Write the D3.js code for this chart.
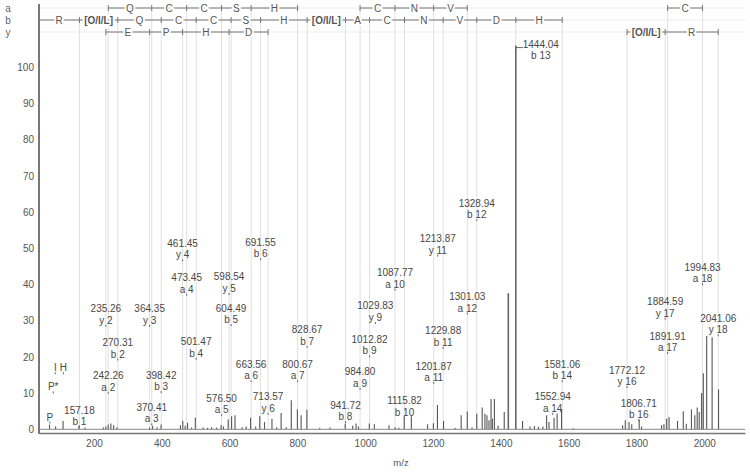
<!DOCTYPE html>
<html>
<head>
<meta charset="utf-8">
<script src="https://cdn.jsdelivr.net/npm/d3@7"></script>
<style>
body { margin: 0; background: #fff; }
text { font-family: "Liberation Sans", Arial, sans-serif; }
</style>
</head>
<body>
<svg id="chart" width="750" height="472"></svg>
<script>
// spectrum sticks (m/z, relative intensity %)
const peakMz = [69, 87, 109, 156, 174, 228, 235, 242, 250, 258, 268, 364, 373, 386, 398,
  455, 462, 469, 476, 488, 499, 522, 535, 547, 562, 575, 582, 596, 606, 616, 637, 649, 662,
  677, 689, 703, 725, 739, 752, 767, 782, 800, 811, 828, 866, 896, 941, 963, 973, 980, 1012,
  1027, 1070, 1088, 1099, 1115, 1136, 1184, 1201, 1213, 1231, 1265, 1283, 1301, 1315, 1329,
  1345, 1353, 1359, 1365, 1371, 1375, 1381, 1392, 1410, 1422, 1444.04, 1464, 1486, 1499,
  1511, 1524, 1535, 1542, 1557, 1566, 1579, 1614, 1759, 1767, 1778, 1786, 1808, 1815, 1874,
  1881, 1889, 1896, 1921, 1938, 1947, 1962, 1972, 1979, 1985, 1992, 1997, 2007, 2023, 2042];
const peakInt = [1.3, 0.8, 2.3, 1.1, 0.5, 0.5, 0.8, 1.3, 1.6, 1.1, 0.6, 0.5, 1.0, 0.6, 1.3,
  1.1, 2.3, 1.0, 1.8, 0.5, 3.2, 0.5, 0.4, 0.6, 0.5, 1.2, 0.8, 2.7, 3.6, 3.9, 0.6, 0.8, 3.2,
  0.8, 3.6, 2.0, 2.9, 0.6, 4.5, 0.6, 8.0, 5.5, 3.9, 5.4, 0.4, 0.5, 1.5, 1.0, 1.6, 0.8, 1.6,
  1.4, 1.1, 0.6, 0.4, 3.6, 3.6, 1.4, 1.7, 6.7, 2.3, 0.4, 3.9, 4.9, 0.5, 4.3,
  6.0, 4.3, 3.9, 2.5, 8.4, 3.0, 8.4, 1.0, 4.8, 37.6, 106, 2.3, 0.8, 0.9,
  0.7, 0.8, 3.9, 2.0, 3.2, 4.3, 5.5, 0.3, 1.1, 2.5, 2.0, 1.4, 2.7, 0.8, 1.1,
  1.4, 2.9, 3.4, 2.3, 5.0, 1.5, 5.5, 3.9, 6.0, 4.8, 10.0, 15.5, 25.8, 25.4, 11.0];

// annotated fragment ions: m/z, ion name, label level (%)
const ionMz = [157.18, 235.26, 270.31, 242.26, 364.35, 398.42, 370.41, 461.45, 473.45,
  501.47, 598.54, 604.49, 576.50, 663.56, 691.55, 713.57, 828.67, 800.67, 941.72, 984.80,
  1012.82, 1029.83, 1087.77, 1115.82, 1213.87, 1201.87, 1229.88, 1301.03, 1328.94,
  1444.04, 1581.06, 1552.94, 1772.12, 1806.71, 1884.59, 1891.91, 1994.83, 2041.06];
const ionName = ["b 1", "y 2", "b 2", "a 2", "y 3", "b 3", "a 3", "y 4", "a 4",
  "b 4", "y 5", "b 5", "a 5", "a 6", "b 6", "y 6", "b 7", "a 7", "b 8", "a 9",
  "b 9", "y 9", "a 10", "b 10", "y 11", "a 11", "b 11", "a 12", "b 12",
  "b 13", "b 14", "a 14", "y 16", "b 16", "y 17", "a 17", "a 18", "y 18"];
const ionLevel = [0.3, 28.3, 19.0, 9.8, 28.3, 10.0, 1.1, 46.4, 36.9,
  19.2, 37.1, 28.5, 3.6, 13.0, 46.7, 4.0, 22.5, 13.0, 1.7, 10.9,
  19.9, 29.1, 38.3, 2.9, 47.7, 12.5, 22.2, 31.7, 57.5,
  106, 13.0, 4.0, 11.4, 2.2, 30.3, 20.8, 39.8, 25.7];

// immonium ions
const immMz = [70.07, 80.0, 86.1, 110.07];
const immName = ["P", "P*", "I", "H"];
const immLevel = [1.6, 9.9, 15.2, 15.2];

// sequence ladders
const ladderRow = ["a", "a", "a", "b", "y", "y"];
const ladderMz = [
  [242.26, 370.41, 473.45, 576.50, 663.56, 800.67],
  [984.80, 1087.77, 1201.87, 1301.03],
  [1891.91, 1994.83],
  [38, 157.18, 270.31, 398.42, 501.47, 604.49, 691.55, 828.67, 941.72, 1012.82,
   1115.82, 1229.88, 1328.94, 1444.04, 1581.06],
  [235.26, 364.35, 461.45, 598.54, 713.57],
  [1772.12, 1884.59, 2041.06]
];
const ladderRes = [
  ["Q", "C", "C", "S", "H"],
  ["C", "N", "V"],
  ["C"],
  ["R", "[O/I/L]", "Q", "C", "C", "S", "H", "[O/I/L]", "A", "C", "N", "V", "D", "H"],
  ["E", "P", "H", "D"],
  ["[O/I/L]", "R"]
];

const svg = d3.select("#chart");
const x = d3.scaleLinear().domain([38, 2120]).range([39, 745]);
const y = d3.scaleLinear().domain([0, 100]).range([429.3, 67.3]);
const rowY = { a: 8, b: 20, y: 32 };

// faint row lines
svg.selectAll(".rowline").data(["a", "b", "y"]).join("line")
  .attr("x1", 39).attr("x2", 745)
  .attr("y1", d => rowY[d]).attr("y2", d => rowY[d])
  .attr("stroke", "#ececec");

// guide lines at ladder breaks
ladderMz.forEach((m, i) => {
  svg.append("g").selectAll("line").data(m.filter(v => v > 40)).join("line")
    .attr("x1", d => x(d)).attr("x2", d => x(d))
    .attr("y1", rowY[ladderRow[i]]).attr("y2", y(0))
    .attr("stroke", "#e0e0e0");
});

// row labels
svg.selectAll(".rowlab").data(["a", "b", "y"]).join("text")
  .attr("x", 8).attr("y", d => rowY[d] + 3.5)
  .attr("text-anchor", "middle")
  .attr("font-size", 10).attr("fill", "#666")
  .text(d => d);

// ladders
ladderMz.forEach((m, i) => {
  const ry = rowY[ladderRow[i]];
  const g = svg.append("g");
  g.append("line")
    .attr("x1", x(m[0])).attr("x2", x(m[m.length - 1]))
    .attr("y1", ry).attr("y2", ry)
    .attr("stroke", "#777");
  g.selectAll(".tk").data(m).join("line")
    .attr("x1", d => x(d)).attr("x2", d => x(d))
    .attr("y1", ry - 3).attr("y2", ry + 3)
    .attr("stroke", "#777");
  g.selectAll("text").data(ladderRes[i]).join("text")
    .attr("x", (d, j) => (x(m[j]) + x(m[j + 1])) / 2)
    .attr("y", ry + 3.5)
    .attr("text-anchor", "middle")
    .attr("font-size", 10)
    .attr("font-weight", d => d.length > 1 ? "bold" : "normal")
    .attr("fill", "#555")
    .attr("stroke", "#fff").attr("stroke-width", 4)
    .attr("paint-order", "stroke")
    .text(d => d);
});

// peaks
svg.append("g").selectAll("line").data(peakMz).join("line")
  .attr("x1", d => x(d)).attr("x2", d => x(d))
  .attr("y1", y(0)).attr("y2", (d, i) => y(peakInt[i]))
  .attr("stroke", (d, i) => peakInt[i] > 30 ? "#666" : "#555")
  .attr("stroke-width", (d, i) => peakInt[i] > 30 ? 1.6 : 1.1);

// ion labels
const lab = svg.append("g").attr("font-size", 10).attr("fill", "#484848");
ionMz.forEach((m, i) => {
  const cx = x(m), yl = y(ionLevel[i]);
  if (ionLevel[i] > 100) {
    // top peak: label to the right with a short leader
    lab.append("line").attr("x1", cx).attr("x2", cx + 7)
      .attr("y1", yl + 2).attr("y2", yl + 2).attr("stroke", "#666");
    lab.append("text").attr("x", cx + 25).attr("y", yl + 2)
      .attr("text-anchor", "middle").text(m.toFixed(2));
    lab.append("text").attr("x", cx + 25).attr("y", yl + 13)
      .attr("text-anchor", "middle").text(ionName[i]);
    return;
  }
  lab.append("text").attr("x", cx).attr("y", yl - 14.5)
    .attr("text-anchor", "middle").text(m.toFixed(2));
  lab.append("text").attr("x", cx).attr("y", yl - 3)
    .attr("text-anchor", "middle").text(ionName[i]);
  lab.append("line").attr("x1", cx).attr("x2", cx)
    .attr("y1", yl - 2).attr("y2", yl).attr("stroke", "#666");
});
immMz.forEach((m, i) => {
  const cx = x(m), yl = y(immLevel[i]);
  lab.append("text").attr("x", cx).attr("y", yl - 3)
    .attr("text-anchor", "middle").text(immName[i]);
  lab.append("line").attr("x1", cx).attr("x2", cx)
    .attr("y1", yl - 2).attr("y2", yl).attr("stroke", "#666");
});

// baseline
svg.append("line").attr("x1", 39).attr("x2", 745)
  .attr("y1", y(0)).attr("y2", y(0)).attr("stroke", "#888");

// x axis
const xAxis = svg.append("g").attr("transform", "translate(0,433)")
  .call(d3.axisBottom(x).tickValues(d3.range(200, 2001, 200))
    .tickFormat(d3.format("d")).tickSize(0).tickPadding(7));
xAxis.select(".domain").attr("stroke", "#777").attr("stroke-width", 1.5);
xAxis.selectAll("text").attr("font-size", 10).attr("fill", "#555")
  .attr("font-family", "'Liberation Sans', Arial, sans-serif");

// y axis
const yAxis = svg.append("g").attr("transform", "translate(39,0)")
  .call(d3.axisLeft(y).tickValues(d3.range(0, 101, 10)).tickSize(0).tickPadding(5));
yAxis.select(".domain").remove();
yAxis.selectAll("text").attr("font-size", 10).attr("fill", "#555")
  .attr("font-family", "'Liberation Sans', Arial, sans-serif");
svg.append("line").attr("x1", 39).attr("x2", 39).attr("y1", 4).attr("y2", 434)
  .attr("stroke", "#777").attr("stroke-width", 2);

svg.append("text").attr("x", 401).attr("y", 466)
  .attr("text-anchor", "middle").attr("font-size", 9.5).attr("fill", "#555")
  .text("m/z");
</script>
</body>
</html>
